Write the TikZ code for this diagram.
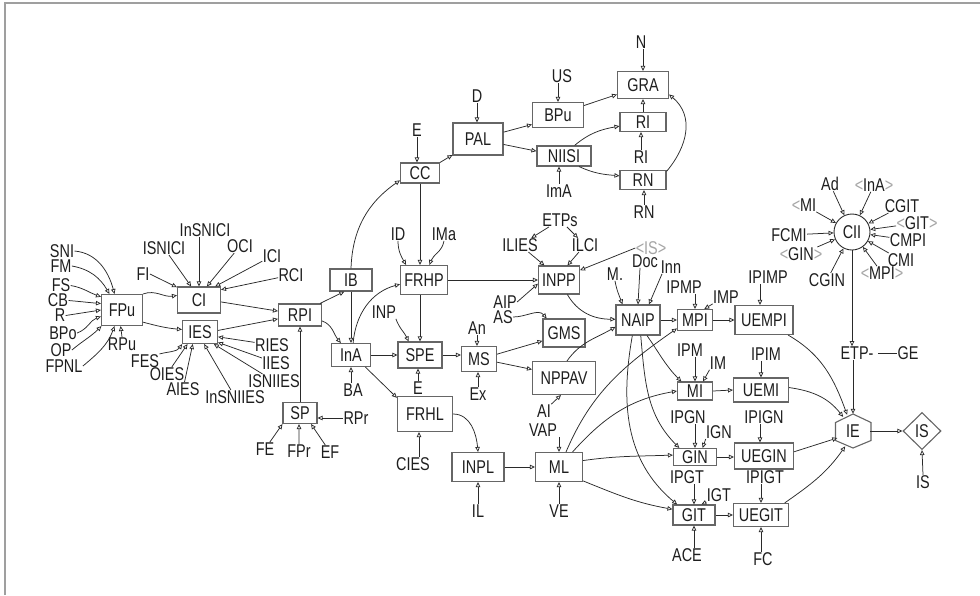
\documentclass[tikz,border=0pt]{standalone}
\usepackage{fontspec}
\setmainfont{Liberation Sans}[FakeStretch=0.78]
\usetikzlibrary{arrows.meta,shapes.geometric}
\definecolor{ln}{HTML}{2A2A2A}
\definecolor{bxc}{HTML}{666666}
\definecolor{grb}{HTML}{A5A5A5}
\definecolor{txt}{HTML}{1E1E1E}
\newcommand{\grb}[1]{\textcolor{grb}{#1}}
\begin{document}
\begin{tikzpicture}[x=1pt,y=-1pt,
  every node/.style={font=\fontsize{18.5}{21}\selectfont, text=txt, inner sep=0.3pt},
  bx/.style 2 args={draw=bxc, line width=1.1pt, minimum width=#1, minimum height=#2, inner sep=0pt},
  ar/.style={draw=ln, line width=0.75pt, -{Triangle[open,length=5pt,width=4.5pt]}},
  pl/.style={draw=ln, line width=0.75pt}]
\useasboundingbox (0,0) rectangle (980,595);
\draw[gray!75, line width=1.4pt] (5,595) -- (5,3) -- (980,3);

% ---------- boxes ----------
\node[bx={41}{31}] (FPu) at (122,310) {FPu};
\node[bx={43}{26}] (CI) at (199,300) {CI};
\node[bx={35}{23}] (IES) at (200,332) {IES};
\node[bx={43}{22}] (RPI) at (300,315) {RPI};
\node[bx={42}{22}] (IB) at (351,280) {IB};
\node[bx={39}{20}] (CC) at (420,173) {CC};
\node[bx={47}{29}] (FRHP) at (424,280) {FRHP};
\node[bx={39}{23}] (InA) at (351,355) {InA};
\node[bx={44}{26}] (SPE) at (420,355) {SPE};
\node[bx={55}{35}] (FRHL) at (425,414) {FRHL};
\node[bx={34}{21}] (SP) at (300,413) {SP};
\node[bx={50}{32}] (PAL) at (478,139) {PAL};
\node[bx={51}{25}] (BPu) at (558,115) {BPu};
\node[bx={51}{27}] (GRA) at (643,85) {GRA};
\node[bx={46}{19}] (RIb) at (643,122) {RI};
\node[bx={54}{20}] (NIISI) at (564,156) {NIISI};
\node[bx={46}{19}] (RNb) at (643,180) {RN};
\node[bx={41}{28}] (INPP) at (559,280) {INPP};
\node[bx={42}{28}] (GMS) at (564,333) {GMS};
\node[bx={35}{25}] (MS) at (479,359) {MS};
\node[bx={63}{33}] (NPPAV) at (564,378) {NPPAV};
\node[bx={52}{29}] (INPL) at (478,467) {INPL};
\node[bx={47}{29}] (ML) at (559,467) {ML};
\node[bx={44}{30}] (NAIP) at (638,320) {NAIP};
\node[bx={35}{21}] (MPI) at (695,320) {MPI};
\node[bx={58}{29}] (UEMPI) at (764,320) {UEMPI};
\node[bx={35}{18}] (MI) at (695,391) {MI};
\node[bx={55}{24}] (UEMI) at (761,390) {UEMI};
\node[bx={43}{17}] (GIN) at (695,457) {GIN};
\node[bx={59}{26}] (UEGIN) at (764,456) {UEGIN};
\node[bx={42}{20}] (GIT) at (694,515) {GIT};
\node[bx={55}{23}] (UEGIT) at (761,515) {UEGIT};
\node[circle, draw=ln, line width=0.9pt, minimum size=36, inner sep=0pt] (CII) at (852,232) {CII};
\node[circle, minimum size=34, inner sep=0pt] (IE) at (853,431) {IE};
\draw[bxc, line width=1.1pt] (853,414) -- (871,422.5) -- (871,440.5) -- (853,448) -- (835.5,440.5) -- (835.5,422.5) -- cycle;
\node[diamond, draw=bxc, line width=1.1pt, minimum width=38, minimum height=37, inner sep=0pt] (ISd) at (922,431) {IS};

% ---------- labels ----------
\node (SNI) at (62,251) {SNI};
\node (FM) at (61,266) {FM};
\node (FS) at (61,285.5) {FS};
\node (CB) at (58,300.5) {CB};
\node (R) at (60,315.5) {R};
\node (BPo) at (63,333) {BPo};
\node (OP) at (61,350) {OP};
\node (FPNL) at (64,366) {FPNL};
\node (RPu) at (122,344) {RPu};
\node (FI) at (143,274) {FI};
\node (ISNICI) at (164,248) {ISNICI};
\node (InSNICI) at (205,230) {InSNICI};
\node (OCI) at (240,246) {OCI};
\node (ICI) at (272,256) {ICI};
\node (RCI) at (291,275) {RCI};
\node (FES) at (145,361) {FES};
\node (OIES) at (167,374) {OIES};
\node (AIES) at (183,389) {AIES};
\node (InSNIIES) at (235,397) {InSNIIES};
\node (ISNIIES) at (274,381) {ISNIIES};
\node (IIES) at (276,363) {IIES};
\node (RIES) at (272,345) {RIES};
\node (FE) at (265,449) {FE};
\node (FPr) at (299,451) {FPr};
\node (EF) at (330,452) {EF};
\node (RPr) at (356,418) {RPr};
\node (BA) at (353,390) {BA};
\node (INP) at (384,312) {INP};
\node (E2) at (418,388) {E};
\node (CIES) at (413,464) {CIES};
\node (E1) at (417,130) {E};
\node (ID) at (398,234) {ID};
\node (IMa) at (444,234) {IMa};
\node (D) at (477,96) {D};
\node (US) at (562,76) {US};
\node (N) at (641,42) {N};
\node (RIl) at (641,157) {RI};
\node (RNl) at (644,212) {RN};
\node (ImA) at (559,191) {ImA};
\node (ETPs) at (560,220) {ETPs};
\node (ILIES) at (520,245) {ILIES};
\node (ILCI) at (585,245) {ILCI};
\node (ISg) at (651,248) {\grb{<IS>}};
\node (Mdot) at (615,274) {M.};
\node (Doc) at (645,261) {Doc};
\node (Inn) at (671,267) {Inn};
\node (IPMP) at (684,287) {IPMP};
\node (IMP) at (726,297) {IMP};
\node (IPIMP) at (768,277) {IPIMP};
\node (AIP) at (505,302) {AIP};
\node (AS) at (503,317) {AS};
\node (An) at (477,328) {An};
\node (Ex) at (478,394) {Ex};
\node (AI) at (544,411) {AI};
\node (VAP) at (543,430) {VAP};
\node (IL) at (478,511) {IL};
\node (VE) at (559,511) {VE};
\node (IPM) at (690,350) {IPM};
\node (IM) at (718,363) {IM};
\node (IPIM) at (766,354) {IPIM};
\node (IPGN) at (688,417) {IPGN};
\node (IGN) at (719,432) {IGN};
\node (IPIGN) at (764,417) {IPIGN};
\node (IPGT) at (687,477) {IPGT};
\node (IGT) at (719,495) {IGT};
\node (IPIGT) at (765,477) {IPIGT};
\node (ACE) at (687,555) {ACE};
\node (FC) at (763,559) {FC};
\node (ETP) at (857,353) {ETP-};
\node (GE) at (908,353) {GE};
\node (ISl) at (923,482) {IS};
\node (Ad) at (830,184) {Ad};
\node (InAg) at (874,185) {\grb{<}InA\grb{>}};
\node (MIg) at (804,205) {\grb{<}MI};
\node (CGIT) at (902,206) {CGIT};
\node (GITg) at (917,223) {\grb{<}GIT\grb{>}};
\node (FCMI) at (789,235) {FCMI};
\node (CMPI) at (908,240) {CMPI};
\node (GINg) at (801,254) {\grb{<}GIN\grb{>}};
\node (CMI) at (901,260) {CMI};
\node (CGIN) at (827,280) {CGIN};
\node (MPIg) at (882,273) {\grb{<}MPI\grb{>}};

% ---------- FPu inputs ----------
\draw[ar] (SNI.east) to[out=-5,in=105] (FPu.115);
\draw[ar] (FM.east) to[out=-10,in=120] (FPu.128);
\draw[ar] (FS.east) to[out=-10,in=160] (FPu.148);
\draw[ar] (CB.east) to[out=-5,in=175] (FPu.163);
\draw[ar] (R.east) -- (FPu.180);
\draw[ar] (BPo.east) to[out=20,in=200] (FPu.197);
\draw[ar] (OP.east) to[out=40,in=225] (FPu.218);
\draw[ar] (FPNL.east) to[out=40,in=250] (FPu.245);
\draw[ar] (RPu.north) -- (FPu.265);
% ---------- CI / IES ----------
\draw[ar] (FPu.north east) to[out=20,in=190] (CI.168);
\draw[ar] (FPu.-30) to[out=-15,in=175] (IES.172);
\draw[ar] (FI.east) -- (CI.150);
\draw[ar] (ISNICI) -- (CI.120);
\draw[ar] (CI.north |- InSNICI.south) -- (CI.north);
\draw[ar] (OCI) -- (CI.60);
\draw[ar] (ICI) -- (CI.40);
\draw[ar] (RCI) -- (CI.25);
\draw[ar] (RIES) -- (IES.-15);
\draw[ar] (IIES) -- (IES.-30);
\draw[ar] (ISNIIES) -- (IES.-41);
\draw[ar] (InSNIIES) -- (IES.-71);
\draw[ar] (AIES) -- (IES.-121);
\draw[ar] (OIES) -- (IES.-136);
\draw[ar] (FES.north east) to[out=15,in=-125] (IES.-146);
\draw[ar] (CI.-5) -- (RPI.170);
\draw[ar] (IES.5) -- (RPI.190);
% ---------- SP ----------
\draw[ar] (SP.north) -- (RPI.south);
\draw[ar] (FE) -- (SP.south west);
\draw[ar] (FPr) -- (SP.-95);
\draw[ar] (EF) -- (SP.-45);
\draw[ar] (RPr.west) -- (SP.east |- RPr.west);
% ---------- RPI / IB / InA ----------
\draw[ar] (RPI.30) -- (IB.-120);
\draw[ar] (RPI.-15) to[out=-20,in=130] (InA.130);
\draw[ar] (IB.south) -- (InA.north);
\draw[ar] (IB.north) to[out=88,in=-145] (CC.200);
\draw[ar] (InA.80) to[out=85,in=195] (FRHP.190);
\draw[ar] (InA.east) -- (SPE.west);
\draw[ar] (InA.-40) -- (FRHL.150);
\draw[ar] (InA.south |- BA.north) -- (InA.south);
% ---------- CC / FRHP / SPE ----------
\draw[ar] (CC.south) -- (CC.south |- FRHP.north);
\draw[ar] (E1.south) -- (E1.south |- CC.north);
\draw[ar] (CC.north east) -- (PAL.212);
\draw[ar] (ID.south) to[out=-90,in=120] (FRHP.140);
\draw[ar] (IMa.south) to[out=-100,in=70] (FRHP.70);
\draw[ar] (FRHP.east) -- (INPP.west);
\draw[ar] (SPE.north |- FRHP.south) -- (SPE.north);
\draw[ar] (INP.-30) to[out=-70,in=115] (SPE.130);
\draw[ar] (E2.north) -- (E2.north |- SPE.south);
\draw[ar] (SPE.east) -- (MS.west |- SPE.east);
\draw[ar] ([xshift=6]CIES.north) -- ([xshift=6]CIES.north |- FRHL.south);
\draw[ar] (FRHL.east) to[out=0,in=95] (INPL.north);
\draw[ar] (INPL.east) -- (ML.west);
\draw[ar] (IL.north) -- (IL.north |- INPL.south);
\draw[ar] (VE.north) -- (VE.north |- ML.south);
\draw[ar] (ML.north |- VAP.south) -- (ML.north);
\draw[ar] (AI.north east) -- (NPPAV.-100);
\draw[ar] (An.south) -- (An.south |- MS.north);
\draw[ar] (Ex.north) -- (Ex.north |- MS.south);
\draw[ar] (MS.15) -- (GMS.200);
\draw[ar] (MS.-10) -- (NPPAV.165);
\draw[ar] (AS.east) to[out=0,in=130] (GMS.140);
\draw[ar] (AIP.east) -- (INPP.190);
% ---------- top ----------
\draw[ar] (D.south) -- (D.south |- PAL.north);
\draw[ar] (PAL.15) -- (BPu.200);
\draw[ar] (PAL.-12) -- (NIISI.170);
\draw[ar] (BPu.north |- US.south) -- (BPu.north);
\draw[ar] (BPu.20) -- (GRA.-160);
\draw[ar] (GRA.north |- N.south) -- (GRA.north);
\draw[ar] (RIb.north) -- (GRA.south);
\draw[ar] (RIl.north) -- (RIl.north |- RIb.south);
\draw[ar] (NIISI.45) to[out=40,in=190] (RIb.190);
\draw[ar] (NIISI.-35) to[out=-25,in=175] (RNb.170);
\draw[ar] (RNb.20) to[out=50,in=-40,looseness=1.1] (GRA.-20);
\draw[ar] (RNl.north) -- (RNl.north |- RNb.south);
\draw[ar] (ImA.north) -- (ImA.north |- NIISI.south);
% ---------- INPP ----------
\draw[ar] (ETPs) -- (ILIES);
\draw[ar] (ETPs) -- (ILCI);
\draw[ar] (ILIES) -- (INPP.135);
\draw[ar] (ILCI) -- (INPP.60);
\draw[ar] (ISg.west) -- (INPP.25);
\draw[ar] (INPP.-60) to[out=-60,in=180] (NAIP.178);
\draw[ar] (NPPAV.80) to[out=55,in=210] (NAIP.197);
% ---------- NAIP ----------
\draw[ar] (Mdot.south) to[out=-80,in=110] (NAIP.135);
\draw[ar] ([xshift=-5]Doc.south) -- (NAIP.north);
\draw[ar] ([xshift=-9]Inn.south) -- (NAIP.55);
\draw[ar] (NAIP.east) -- (MPI.west);
\draw[ar] (MPI.east) -- (UEMPI.west);
\draw[ar] (MPI.north |- IPMP.south) -- (MPI.north);
\draw[ar] (IMP.south west) -- (MPI.50);
\draw[ar] ([xshift=-4]UEMPI.north |- IPIMP.south) -- ([xshift=-4]UEMPI.north);
\draw[ar] (NAIP.-60) to[out=-55,in=135] (MI.145);
\draw[ar] (NAIP.-80) to[out=-85,in=135] (GIN.150);
\draw[ar] (NAIP.-110) to[out=-100,in=140] (GIT.148);
\draw[ar] (MI.north |- IPM.south) -- (MI.north);
\draw[ar] (IM.south west) -- (MI.50);
\draw[ar] (MI.east) -- (UEMI.west);
\draw[ar] (UEMI.north |- IPIM.south) -- (UEMI.north);
% ---------- ML ----------
\draw[ar] (ML.65) to[out=67,in=215] (MPI.205);
\draw[ar] (ML.48) to[out=48,in=190] (MI.west);
\draw[ar] (ML.15) to[out=8,in=182] (GIN.175);
\draw[ar] (ML.-30) to[out=-22,in=170] (GIT.165);
% ---------- GIN / GIT ----------
\draw[ar] (GIN.east) -- (UEGIN.west |- GIN.east);
\draw[ar] (GIT.east) -- (UEGIT.west);
\draw[ar] (GIN.north |- IPGN.south) -- (GIN.north);
\draw[ar] (IGN.south west) -- (GIN.50);
\draw[ar] ([xshift=-4]UEGIN.north |- IPIGN.south) -- ([xshift=-4]UEGIN.north);
\draw[ar] (GIT.north |- IPGT.south) -- (GIT.north);
\draw[ar] (IGT.south west) -- (GIT.55);
\draw[ar] (UEGIT.north |- IPIGT.south) -- (UEGIT.north);
\draw[ar] (GIT.south |- ACE.north) -- (GIT.south);
\draw[ar] (UEGIT.south |- FC.north) -- (UEGIT.south);
% ---------- IE ----------
\draw[ar] (UEMPI.-32) to[out=-30,in=110] (IE.110);
\draw[ar] (UEMI.5) to[out=-8,in=128] (IE.125);
\draw[ar] (UEGIN.8) -- (IE.204);
\draw[ar] (UEGIT.27) to[out=35,in=-125] (IE.-117);
\draw[ar] (IE.east) -- (ISd.west);
\draw[ar] (ISl.north) -- (ISd.south);
\draw[ar] (CII.south) -- (CII.south |- ETP.north);
\draw[ar] (IE.north |- ETP.south) -- (IE.north);
\draw[pl] ([xshift=4]ETP.east) -- (GE.west);
% ---------- CII ----------
\foreach \n in {Ad,InAg,MIg,CGIT,GITg,FCMI,CMPI,GINg,CMI,CGIN,MPIg}
  \draw[ar] (\n) -- (CII);
\end{tikzpicture}
\end{document}
